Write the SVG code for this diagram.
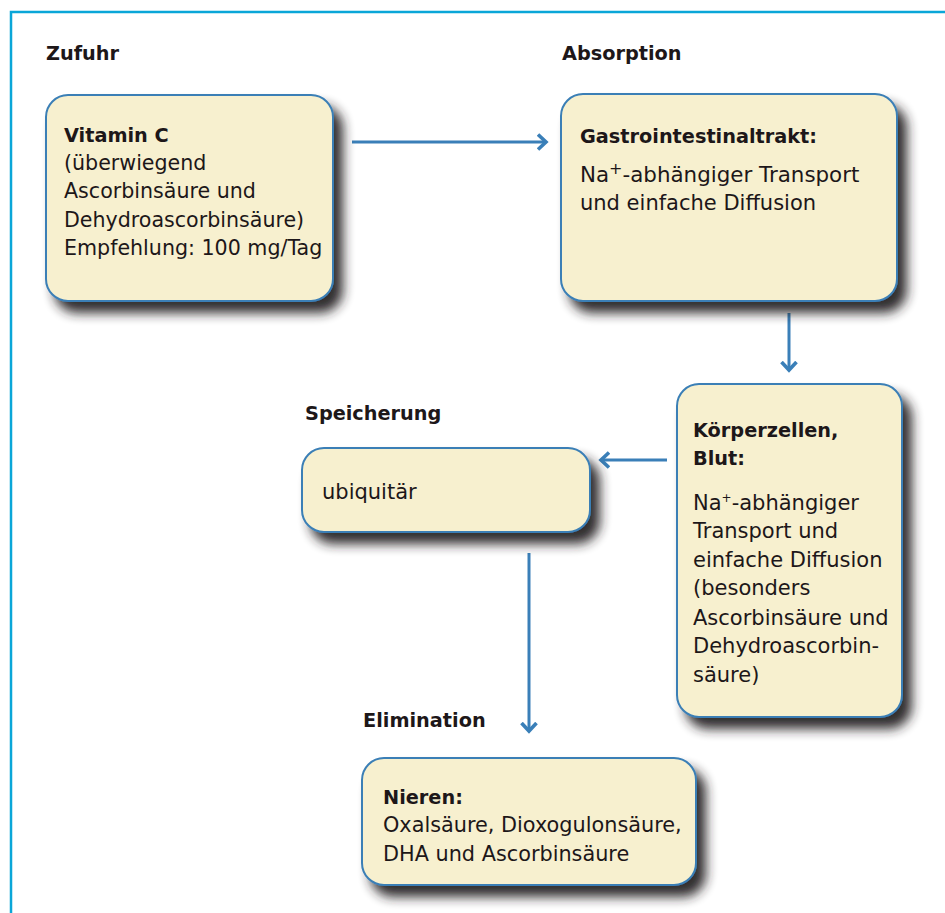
<svg xmlns="http://www.w3.org/2000/svg" width="945" height="913" viewBox="0 0 945 913">
  <style>
    .frame { fill: none; stroke: #0aa6d8; stroke-width: 2.5; }
    .box { fill: #f7f0cf; stroke: #3b7fb6; stroke-width: 2; filter: url(#shadow); }
    .t { font-family: "DejaVu Sans", "Liberation Sans", sans-serif; font-size: 20.6px; fill: #1d1719; }
    .b { font-family: "DejaVu Sans", "Liberation Sans", sans-serif; font-size: 19.3px; font-weight: bold; fill: #1d1719; }
    .conn { fill: none; stroke: #3a7fb8; stroke-width: 3; marker-end: url(#arrow); }
  </style>
  <defs>
    <filter id="shadow" x="-20%" y="-20%" width="150%" height="170%">
      <feGaussianBlur in="SourceAlpha" stdDeviation="6" result="blur"/>
      <feOffset in="blur" dx="9" dy="11" result="off"/>
      <feComponentTransfer in="off" result="dark">
        <feFuncA type="linear" slope="0.95"/>
      </feComponentTransfer>
      <feFlood flood-color="#262224" result="col"/>
      <feComposite in="col" in2="dark" operator="in" result="sh"/>
      <feMerge>
        <feMergeNode in="sh"/>
        <feMergeNode in="SourceGraphic"/>
      </feMerge>
    </filter>
    <marker id="arrow" markerUnits="userSpaceOnUse" viewBox="0 0 16 20" markerWidth="16" markerHeight="20" refX="9" refY="9.5" orient="auto">
      <path d="M1,2 L9,9.5 L1,17" fill="none" stroke="#3a7fb8" stroke-width="3.6" stroke-linejoin="miter"/>
    </marker>
  </defs>

  <rect class="frame" x="11" y="12" width="1000" height="1000"/>

  <g id="labels">
    <text class="b" x="46" y="60">Zufuhr</text>
    <text class="b" x="562" y="60">Absorption</text>
    <text class="b" x="305" y="420">Speicherung</text>
    <text class="b" x="363" y="727">Elimination</text>
  </g>

  <g id="connectors">
    <line class="conn" x1="352" y1="142" x2="546" y2="142"/>
    <line class="conn" x1="789" y1="313" x2="789" y2="370"/>
    <line class="conn" x1="667" y1="460" x2="601" y2="460"/>
    <line class="conn" x1="529" y1="553" x2="529" y2="731"/>
  </g>

  <g id="vitaminC">
    <rect class="box" x="46" y="95" width="287" height="206" rx="22"/>
    <text class="b" x="64" y="142">Vitamin C</text>
    <text class="t" x="64" y="170">(überwiegend</text>
    <text class="t" x="64" y="198">Ascorbinsäure und</text>
    <text class="t" x="64" y="227">Dehydroascorbinsäure)</text>
    <text class="t" x="64" y="255">Empfehlung: 100 mg/Tag</text>
  </g>

  <g id="gastro">
    <rect class="box" x="561" y="94" width="336" height="207" rx="22"/>
    <text class="b" x="580" y="143">Gastrointestinaltrakt:</text>
    <text class="t" x="580" y="182" style="font-size:21.4px">Na<tspan dy="-8" style="font-size:16px">+</tspan><tspan dy="8">-abhängiger Transport</tspan></text>
    <text class="t" x="580" y="210" style="font-size:21px">und einfache Diffusion</text>
  </g>

  <g id="koerperzellen">
    <rect class="box" x="677" y="384" width="225" height="333" rx="22"/>
    <text class="b" x="693" y="437">Körperzellen,</text>
    <text class="b" x="693" y="465">Blut:</text>
    <text class="t" x="693" y="510" style="font-size:21px">Na<tspan dy="-8" style="font-size:12px">+</tspan><tspan dy="8">-abhängiger</tspan></text>
    <text class="t" x="693" y="538" style="font-size:21px">Transport und</text>
    <text class="t" x="693" y="567" style="font-size:21px">einfache Diffusion</text>
    <text class="t" x="693" y="595" style="font-size:21px">(besonders</text>
    <text class="t" x="693" y="625" style="font-size:21px">Ascorbinsäure und</text>
    <text class="t" x="693" y="653" style="font-size:21px">Dehydroascorbin-</text>
    <text class="t" x="693" y="682" style="font-size:21px">säure)</text>
  </g>

  <g id="speicherung">
    <rect class="box" x="302" y="448" width="288" height="84" rx="22"/>
    <text class="t" x="322" y="499" style="font-size:21px">ubiquitär</text>
  </g>

  <g id="nieren">
    <rect class="box" x="362" y="758" width="334" height="127" rx="22"/>
    <text class="b" x="383" y="804">Nieren:</text>
    <text class="t" x="383" y="832" style="font-size:20.8px">Oxalsäure, Dioxogulonsäure,</text>
    <text class="t" x="383" y="861" style="font-size:20.8px">DHA und Ascorbinsäure</text>
  </g>
</svg>
